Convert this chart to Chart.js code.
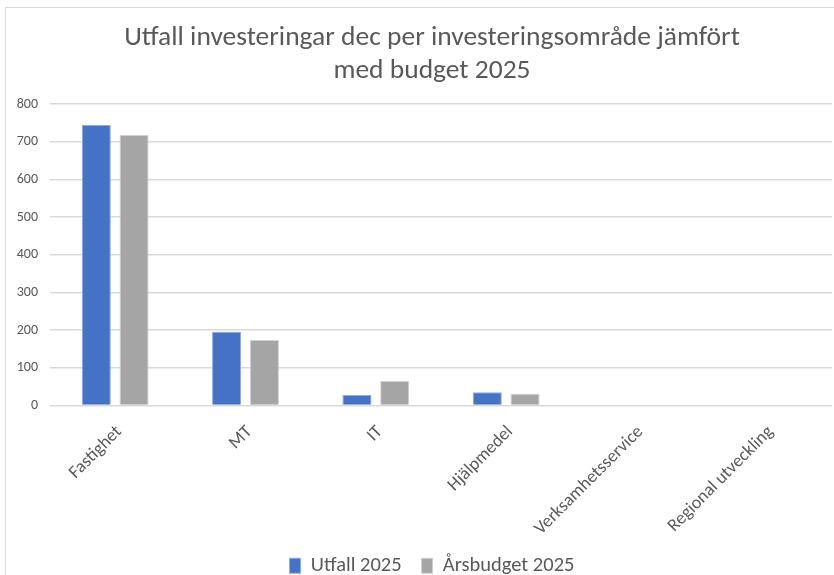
<!DOCTYPE html>
<html>
<head>
<meta charset="utf-8">
<script src="https://cdn.jsdelivr.net/npm/chart.js@4"></script>
<style>
    html, body {
        margin: 0;
        padding: 0;
        background: #ffffff;
        overflow: hidden;
    }
    #frame {
        position: absolute;
        left: 5px;
        top: 7px;
        width: 829px;
        height: 600px;
        border-left: 1px solid #d9d9d9;
        border-top: 1px solid #d9d9d9;
    }
    #chartBox {
        position: absolute;
        left: 8px;
        top: 8px;
        width: 848px;
        height: 578px;
    }
</style>
</head>
<body>
<div id="frame"></div>
<div id="chartBox"><canvas id="investChart"></canvas></div>
<script>
// Investment areas and values (MSEK)
const categories = ['Fastighet', 'MT', 'IT', 'Hjälpmedel', 'Verksamhetsservice', 'Regional utveckling'];
const utfall2025 = [744, 196, 28, 35, 0, 0];
const arsbudget2025 = [718, 174, 65, 31, 0, 0];
const yTicks = [0, 100, 200, 300, 400, 500, 600, 700, 800];

const textColor = '#595959';
const gridColor = '#d9d9d9';
const fontStack = 'Calibri, Carlito, "Liberation Sans Narrow", "Open Sans", sans-serif';

function drawChart() {
    const ctx = document.getElementById('investChart');

    new Chart(ctx, {
        type: 'bar',
        data: {
            labels: categories,
            datasets: [{
                label: 'Utfall 2025',
                data: utfall2025,
                backgroundColor: '#4472c4',
                borderColor: '#8faadc',
                borderWidth: 1
            }, {
                label: 'Årsbudget 2025',
                data: arsbudget2025,
                backgroundColor: '#a5a5a5',
                borderColor: '#d0d0d0',
                borderWidth: 1
            }]
        },
        options: {
            responsive: true,
            maintainAspectRatio: false,
            animation: false,
            categoryPercentage: 0.58,
            barPercentage: 0.77,
            layout: {
                padding: { left: 0, right: 0, top: 14, bottom: 0 }
            },
            plugins: {
                title: {
                    display: true,
                    text: ['Utfall investeringar dec per investeringsområde jämfört', 'med budget 2025'],
                    color: textColor,
                    font: { family: fontStack, size: 27.5, weight: 'normal', lineHeight: 1.2 },
                    padding: { top: 0, bottom: 16 }
                },
                legend: {
                    position: 'bottom',
                    labels: {
                        color: textColor,
                        font: { family: fontStack, size: 20.5 },
                        boxWidth: 11,
                        boxHeight: 15,
                        padding: 20
                    }
                },
                tooltip: { enabled: false }
            },
            scales: {
                y: {
                    min: 0,
                    max: 800,
                    afterBuildTicks: axis => {
                        axis.ticks = yTicks.map(v => ({ value: v }));
                    },
                    // fixed axis width so the plot starts where the reference does
                    afterFit: axis => {
                        axis.width = 42;
                    },
                    border: { display: false },
                    grid: { color: gridColor, lineWidth: 1.5, drawTicks: false },
                    ticks: {
                        color: textColor,
                        font: { family: fontStack, size: 14 },
                        padding: 12
                    }
                },
                // empty spacer on the right, keeps title and legend centred on the whole box
                spacer: {
                    type: 'linear',
                    position: 'right',
                    afterFit: axis => {
                        axis.width = 24;
                    },
                    border: { display: false },
                    grid: { display: false },
                    ticks: { display: false }
                },
                x: {
                    // rotated first label would otherwise widen the y axis
                    afterFit: axis => {
                        axis.paddingLeft = 0;
                        axis.paddingRight = 0;
                        axis.height = 130;
                    },
                    border: { display: false },
                    grid: { display: false },
                    ticks: {
                        color: textColor,
                        font: { family: fontStack, size: 18 },
                        minRotation: 45,
                        maxRotation: 45,
                        padding: 8,
                        labelOffset: 4
                    }
                }
            }
        }
    });
}

document.addEventListener('DOMContentLoaded', drawChart);
</script>
</body>
</html>
